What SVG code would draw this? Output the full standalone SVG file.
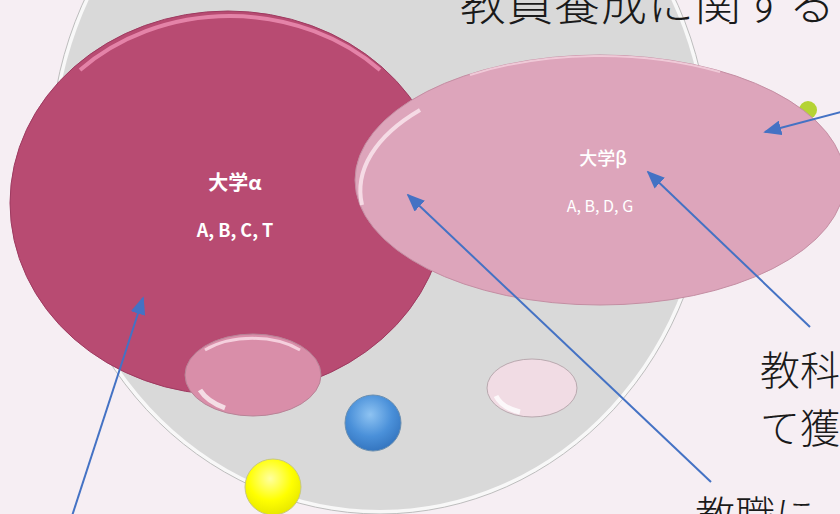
<svg xmlns="http://www.w3.org/2000/svg" width="840" height="514" viewBox="0 0 840 514">
<defs>
<style>
.lbl{fill:#fff;font-family:"Noto Sans CJK JP","Noto Sans",sans-serif;text-anchor:middle}
.big{fill:#1a1a1a;font-family:"Noto Sans CJK JP",sans-serif;font-weight:300}
.con{stroke:#4472C4;stroke-width:2;fill:none;marker-end:url(#ah)}
</style>
<marker id="ah" viewBox="0 0 10 10" refX="9" refY="5" markerWidth="18" markerHeight="15" orient="auto" markerUnits="userSpaceOnUse" preserveAspectRatio="none">
<path d="M0,0 L10,5 L0,10 z" fill="#4472C4"/>
</marker>
<radialGradient id="gBlue" cx="0.45" cy="0.35" r="0.65">
<stop offset="0" stop-color="#8ec3f2"/><stop offset="0.6" stop-color="#4a90d9"/><stop offset="1" stop-color="#3576c0"/>
</radialGradient>
<radialGradient id="gYel" cx="0.45" cy="0.35" r="0.65">
<stop offset="0" stop-color="#ffffa0"/><stop offset="0.6" stop-color="#ffff00"/><stop offset="1" stop-color="#e8e800"/>
</radialGradient>
</defs>
<rect width="840" height="514" fill="#f6eef3"/>
<g id="base">
<ellipse cx="380" cy="158" rx="328" ry="354" fill="#d9d9d9" stroke="#f8f8f8" stroke-width="4"/>
<ellipse cx="380" cy="158" rx="330" ry="356" fill="none" stroke="#bdbdbd" stroke-width="1"/>
</g>
<text class="big" x="460" y="20" font-size="46" letter-spacing="1">教員養成に関する</text>
<g id="green"><circle cx="808" cy="110" r="9" fill="#b5d334"/></g>
<g id="univA">
<ellipse cx="228" cy="203" rx="218" ry="192" fill="#b84b72" stroke="#9e3a60" stroke-width="1"/>
<path d="M80,70 A214,188 0 0 1 380,70" fill="none" stroke="#e98aae" stroke-width="4" opacity="0.9"/>
<text class="lbl" x="235" y="190" font-size="20" font-weight="700">大学α</text>
<text class="lbl" x="235" y="237" font-size="18" font-weight="700">A, B, C, T</text>
</g>
<g id="univB">
<ellipse cx="600" cy="180" rx="245" ry="125" fill="#dda5bb" stroke="#c48ea3" stroke-width="1"/>
<path d="M362,205 A243,123 0 0 1 420,110" fill="none" stroke="#fbe9f0" stroke-width="4" opacity="0.8"/>
<path d="M470,75 A243,123 0 0 1 720,72" fill="none" stroke="#f5d3e0" stroke-width="2" opacity="0.8"/>
<text class="lbl" x="603" y="165" font-size="18" font-weight="500">大学β</text>
<text class="lbl" x="600" y="212" font-size="16">A, B, D, G</text>
</g>
<g id="smallPink">
<ellipse cx="253" cy="375" rx="68" ry="41" fill="#d98ea9" stroke="#b88397" stroke-width="1"/>
<path d="M200,390 A60,36 0 0 0 225,408" fill="none" stroke="#fff" stroke-width="5" opacity="0.7"/>
<path d="M205,350 A68,41 0 0 1 300,350" fill="none" stroke="#fbe0ea" stroke-width="3" opacity="0.8"/>
</g>
<g id="lightPink">
<ellipse cx="532" cy="388" rx="45" ry="29" fill="#f1dce4" stroke="#b9a9af" stroke-width="1"/>
<path d="M496,396 A40,25 0 0 0 520,412" fill="none" stroke="#fff" stroke-width="5" opacity="0.8"/>
</g>
<g id="blueBall"><circle cx="373" cy="423" r="28" fill="url(#gBlue)" stroke="#6b8fb0" stroke-width="1"/></g>
<g id="yellowBall"><circle cx="273" cy="487" r="28" fill="url(#gYel)" stroke="#c8c880" stroke-width="1"/></g>
<g id="captions">
<text class="big" x="760" y="385" font-size="40">教科</text>
<text class="big" x="760" y="443" font-size="40">て獲</text>
<text class="big" x="695" y="530" font-size="40">教職に</text>
</g>
<g id="connectors">
<line class="con" x1="845" y1="111" x2="765" y2="132"/>
<line class="con" x1="810" y1="327" x2="648" y2="172"/>
<line class="con" x1="711" y1="482" x2="408" y2="195"/>
<line class="con" x1="72" y1="516" x2="143" y2="298"/>
</g>
</svg>
